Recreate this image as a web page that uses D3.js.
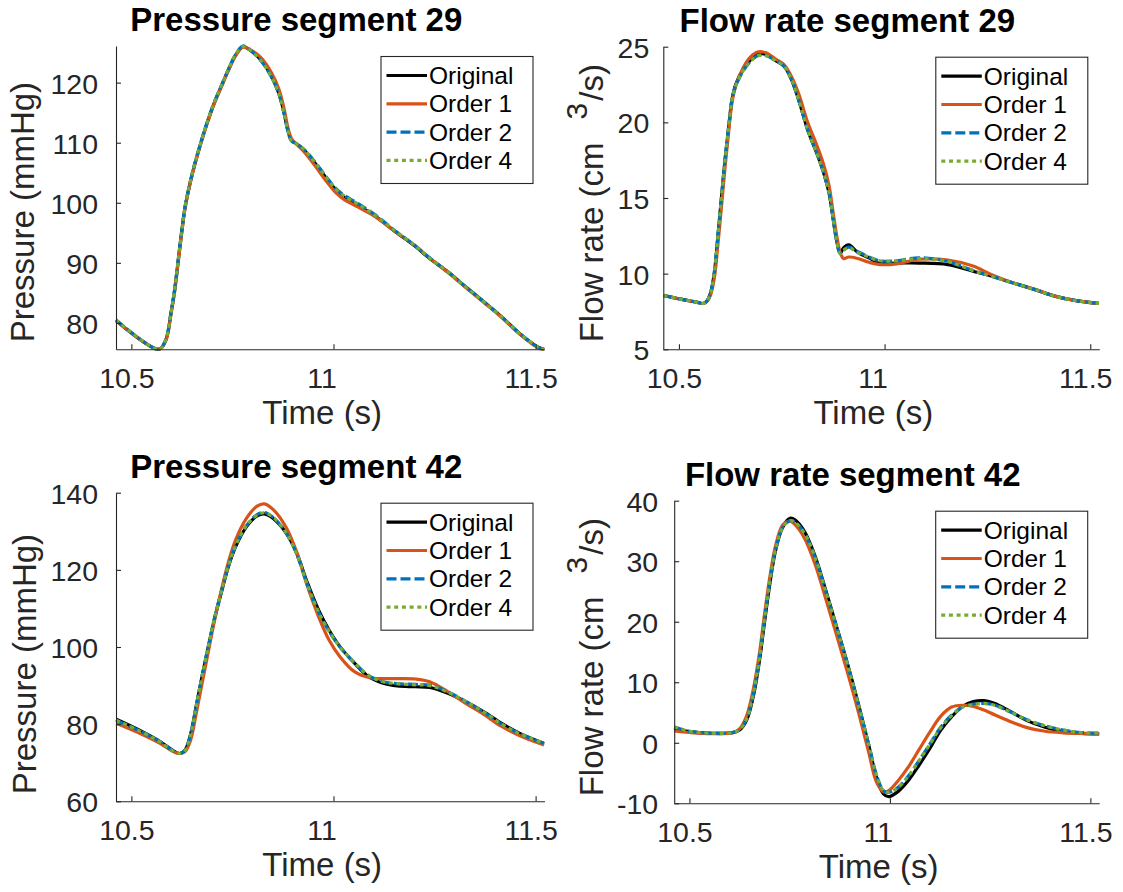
<!DOCTYPE html>
<html>
<head>
<meta charset="utf-8">
<script src="https://cdn.jsdelivr.net/npm/d3@7"></script>
<style>
  body { margin: 0; background: #fff; }
  svg text { font-family: "Liberation Sans", Arial, Helvetica, sans-serif; }
</style>
</head>
<body>
<svg id="chart" width="1123" height="892"></svg>
<script>
const seriesNames = ['Original', 'Order 1', 'Order 2', 'Order 4'];
const xTicks = [10.5, 11, 11.5];
const timeDomain = [10.462, 11.522];

// Pressure segment 29
const timeP29 = [10.462, 10.568, 10.585, 10.598, 10.607, 10.616, 10.625, 10.633, 10.651, 10.669,
                 10.687, 10.705, 10.722, 10.740, 10.758, 10.776, 10.794, 10.820, 10.847, 10.865,
                 10.878, 10.887, 10.896, 10.909, 10.927, 10.954, 10.980, 11.007, 11.025, 11.060,
                 11.105, 11.149, 11.203, 11.238, 11.283, 11.327, 11.372, 11.416, 11.461, 11.505, 11.521];
const p29Original = [80.4, 75.6, 77.1, 81.6, 85.4, 90.4, 95.4, 99.3, 104.9, 109.3,
                     113.2, 116.6, 119.3, 122.1, 124.6, 126.0, 125.4, 123.8, 121.0, 118.2,
                     114.9, 112.1, 110.4, 109.8, 108.8, 106.6, 104.3, 102.1, 101.0, 99.6,
                     97.7, 95.4, 92.7, 90.7, 88.5, 86.0, 83.5, 81.0, 78.2, 76.0, 75.6];
const p29Order1 = [80.4, 75.6, 77.0, 81.4, 85.2, 90.2, 95.2, 99.1, 104.8, 109.2,
                   113.1, 116.5, 119.2, 122.0, 124.5, 125.9, 125.5, 124.2, 121.6, 118.9,
                   115.6, 112.6, 110.7, 109.7, 108.5, 106.2, 103.8, 101.6, 100.6, 99.3,
                   97.6, 95.4, 92.8, 90.8, 88.4, 85.9, 83.4, 80.9, 78.1, 75.9, 75.6];
const p29Order2 = [80.5, 75.6, 77.2, 81.7, 85.5, 90.5, 95.5, 99.4, 105.0, 109.4,
                   113.3, 116.7, 119.4, 122.2, 124.7, 126.1, 125.4, 123.7, 120.9, 118.1,
                   114.8, 112.0, 110.3, 109.8, 108.9, 106.8, 104.5, 102.3, 101.3, 99.9,
                   97.9, 95.5, 92.8, 90.8, 88.5, 86.0, 83.5, 81.0, 78.2, 76.0, 75.6];
const p29Order4 = [80.5, 75.6, 77.2, 81.7, 85.5, 90.5, 95.5, 99.4, 105.0, 109.4,
                   113.3, 116.7, 119.4, 122.2, 124.7, 126.0, 125.4, 123.7, 120.9, 118.1,
                   114.8, 112.0, 110.3, 109.8, 108.9, 106.7, 104.4, 102.2, 101.2, 99.8,
                   97.8, 95.5, 92.8, 90.8, 88.5, 86.0, 83.5, 81.0, 78.2, 76.0, 75.6];

// Flow rate segment 29
const timeQ29 = [10.463, 10.507, 10.542, 10.559, 10.568, 10.577, 10.586, 10.594, 10.603, 10.612,
                 10.621, 10.629, 10.638, 10.656, 10.673, 10.691, 10.712, 10.734, 10.756, 10.774,
                 10.791, 10.813, 10.835, 10.852, 10.865, 10.874, 10.883, 10.892, 10.900, 10.913,
                 10.935, 10.962, 10.988, 11.030, 11.084, 11.154, 11.215, 11.259, 11.311, 11.364,
                 11.416, 11.469, 11.521];
const q29Original = [8.56, 8.30, 8.12, 8.03, 8.19, 8.74, 10.05, 12.25, 14.9, 17.5,
                     19.7, 21.5, 22.5, 23.5, 24.1, 24.5, 24.5, 24.1, 23.7, 22.8,
                     21.5, 19.5, 17.97, 16.65, 15.33, 13.8, 12.25, 11.33, 11.7, 11.9,
                     11.4, 11.04, 10.7, 10.7, 10.7, 10.6, 10.16, 9.84, 9.4, 8.96,
                     8.5, 8.2, 8.03];
const q29Order1 = [8.56, 8.30, 8.12, 8.03, 8.15, 8.6, 9.7, 11.7, 14.3, 17.0,
                   19.4, 21.3, 22.4, 23.6, 24.3, 24.65, 24.6, 24.2, 23.8, 23.0,
                   21.9, 20.0, 18.5, 17.2, 15.8, 14.2, 12.6, 11.4, 11.0, 11.1,
                   11.0, 10.75, 10.6, 10.65, 10.95, 10.9, 10.5, 9.95, 9.4, 8.96,
                   8.5, 8.2, 8.03];
const q29Order2 = [8.56, 8.30, 8.12, 8.03, 8.19, 8.74, 10.05, 12.25, 14.9, 17.5,
                   19.7, 21.5, 22.4, 23.4, 24.0, 24.4, 24.4, 24.1, 23.7, 22.8,
                   21.5, 19.5, 17.97, 16.65, 15.33, 13.8, 12.25, 11.33, 11.55, 11.75,
                   11.45, 11.1, 10.85, 10.85, 11.05, 10.8, 10.2, 9.84, 9.4, 8.96,
                   8.5, 8.2, 8.03];
const q29Order4 = [8.56, 8.30, 8.12, 8.03, 8.19, 8.74, 10.05, 12.25, 14.9, 17.5,
                   19.7, 21.5, 22.4, 23.4, 24.0, 24.4, 24.4, 24.1, 23.7, 22.8,
                   21.5, 19.5, 17.97, 16.65, 15.33, 13.8, 12.25, 11.33, 11.55, 11.7,
                   11.4, 11.1, 10.85, 10.85, 11.0, 10.8, 10.2, 9.84, 9.4, 8.96,
                   8.5, 8.2, 8.03];

// Pressure segment 42
const timeP42 = [10.4626, 10.527, 10.571, 10.607, 10.620, 10.633, 10.647, 10.660, 10.673, 10.687,
                 10.705, 10.722, 10.740, 10.758, 10.785, 10.811, 10.829, 10.851, 10.883, 10.909,
                 10.936, 10.963, 10.989, 11.016, 11.052, 11.087, 11.123, 11.158, 11.203, 11.238,
                 11.283, 11.327, 11.372, 11.416, 11.461, 11.521];
const p42Original = [81.25, 78.05, 75.5, 72.9, 72.4, 73.3, 77.6, 84.5, 91.4, 98.4,
                     107.0, 113.9, 120.8, 126.0, 131.2, 134.0, 134.5, 133.3, 129.5, 124.3,
                     116.5, 109.6, 104.4, 100.1, 95.8, 92.3, 90.6, 89.9, 89.7, 89.5,
                     88.0, 85.8, 83.2, 80.2, 77.6, 75.0];
const p42Order1 = [80.2, 77.3, 75.0, 72.7, 72.4, 72.9, 76.0, 82.5, 89.5, 97.0,
                   106.5, 114.5, 122.0, 127.8, 133.4, 136.5, 137.1, 135.6, 131.0, 124.6,
                   115.6, 107.9, 101.8, 97.5, 93.6, 92.1, 91.8, 91.8, 91.7, 91.0,
                   88.4, 85.4, 82.5, 79.4, 77.0, 74.6];
const p42Order2 = [81.0, 77.9, 75.4, 72.8, 72.4, 73.2, 77.4, 84.4, 91.4, 98.5,
                   107.2, 114.1, 121.0, 126.3, 131.5, 134.3, 134.9, 133.6, 129.6, 124.1,
                   116.0, 109.1, 104.1, 100.0, 95.9, 92.6, 91.0, 90.5, 90.3, 90.1,
                   88.4, 85.9, 83.1, 80.0, 77.5, 75.0];
const p42Order4 = [81.0, 77.9, 75.4, 72.8, 72.4, 73.2, 77.4, 84.4, 91.4, 98.5,
                   107.2, 114.1, 121.0, 126.3, 131.5, 134.2, 134.8, 133.6, 129.6, 124.1,
                   116.0, 109.1, 104.1, 100.0, 95.9, 92.6, 91.0, 90.5, 90.2, 90.0,
                   88.3, 85.9, 83.1, 80.0, 77.5, 75.0];

// Flow rate segment 42
const timeQ42 = [10.462, 10.500, 10.554, 10.608, 10.625, 10.643, 10.661, 10.675, 10.688, 10.702,
                 10.715, 10.733, 10.751, 10.764, 10.787, 10.814, 10.840, 10.867, 10.894, 10.921,
                 10.948, 10.966, 10.984, 10.997, 11.020, 11.047, 11.073, 11.100, 11.127, 11.154,
                 11.181, 11.208, 11.235, 11.262, 11.297, 11.342, 11.387, 11.432, 11.477, 11.522];
const q42Original = [2.4, 1.84, 1.56, 1.67, 2.1, 3.8, 8.2, 13.7, 20.3, 26.9,
                     31.85, 35.7, 37.1, 36.8, 34.9, 30.75, 25.2, 19.2, 13.1, 6.5,
                     -0.64, -5.6, -8.46, -8.9, -8.07, -6.15, -3.67, -0.9, 2.1, 4.3,
                     6.0, 6.8, 6.96, 6.5, 5.3, 3.66, 2.56, 1.84, 1.56, 1.45];
const q42Order1 = [1.95, 1.7, 1.5, 1.65, 2.3, 4.5, 9.4, 15.0, 21.6, 28.0,
                   32.6, 36.0, 36.6, 36.0, 33.8, 29.4, 23.8, 17.8, 11.7, 5.2,
                   -1.8, -6.4, -8.1, -7.9, -6.3, -3.9, -1.1, 1.8, 4.4, 5.9,
                   6.2, 6.0, 5.4, 4.6, 3.6, 2.5, 1.9, 1.65, 1.55, 1.5];
const q42Order2 = [2.6, 1.9, 1.6, 1.7, 2.2, 4.0, 8.6, 14.2, 20.8, 27.3,
                   32.0, 35.6, 36.7, 36.4, 34.6, 30.5, 25.0, 19.1, 13.0, 6.4,
                   -0.5, -5.2, -7.9, -8.2, -7.4, -5.4, -2.9, -0.2, 2.6, 4.6,
                   5.9, 6.4, 6.5, 6.2, 5.2, 3.8, 2.8, 2.1, 1.7, 1.6];
const q42Order4 = [2.6, 1.9, 1.6, 1.7, 2.2, 4.0, 8.6, 14.2, 20.8, 27.3,
                   32.0, 35.6, 36.7, 36.4, 34.6, 30.5, 25.0, 19.1, 13.0, 6.4,
                   -0.5, -5.2, -7.9, -8.2, -7.4, -5.4, -2.9, -0.2, 2.5, 4.5,
                   5.9, 6.3, 6.5, 6.2, 5.2, 3.8, 2.8, 2.1, 1.7, 1.6];

const yTicksP29 = [80, 90, 100, 110, 120];
const yTicksQ29 = [5, 10, 15, 20, 25];
const yTicksP42 = [60, 80, 100, 120, 140];
const yTicksQ42 = [-10, 0, 10, 20, 30, 40];

const panels = [
  {title: 'Pressure segment 29', ylabel: 'pressure', time: timeP29,
   series: [p29Original, p29Order1, p29Order2, p29Order4], yDomain: [75.6, 126.1], yTicks: yTicksP29,
   box: {left: 116, right: 544.5, top: 46, bottom: 349.3, labelGap: 82, tickGap: 18}},
  {title: 'Flow rate segment 29', ylabel: 'flow', time: timeQ29,
   series: [q29Original, q29Order1, q29Order2, q29Order4], yDomain: [5, 25], yTicks: yTicksQ29,
   box: {left: 663.3, right: 1099.3, top: 46.7, bottom: 349.3, labelGap: 60.5, tickGap: 14}},
  {title: 'Pressure segment 42', ylabel: 'pressure', time: timeP42,
   series: [p42Original, p42Order1, p42Order2, p42Order4], yDomain: [60, 140], yTicks: yTicksP42,
   box: {left: 116, right: 544.5, top: 492.7, bottom: 801.3, labelGap: 80.5, tickGap: 18}},
  {title: 'Flow rate segment 42', ylabel: 'flow', time: timeQ42,
   series: [q42Original, q42Order1, q42Order2, q42Order4], yDomain: [-10, 40], yTicks: yTicksQ42,
   box: {left: 674.2, right: 1099.2, top: 500.7, bottom: 803.3, labelGap: 71, tickGap: 16}}
];

const lineStyles = [
  {color: '#000000', dash: null},
  {color: '#D95319', dash: null},
  {color: '#0072BD', dash: '10,4'},
  {color: '#77AC30', dash: '4,3.7'}
];
const axisColor = '#262626';

const svg = d3.select('#chart');
svg.append('rect').attr('width', 1123).attr('height', 892).attr('fill', '#fff');

function styleAxis(g) {
  g.select('.domain').attr('stroke', axisColor).attr('stroke-width', 1.1);
  g.selectAll('.tick line').attr('stroke', axisColor).attr('stroke-width', 1.1);
  g.selectAll('.tick text')
   .attr('fill', axisColor)
   .style('font-size', '28.5px')
   .style('font-family', '"Liberation Sans", Arial, sans-serif');
}

function drawPanel(panel) {
  let b = panel.box;
  let xScale = d3.scaleLinear().domain(timeDomain).range([b.left, b.right]);
  let yScale = d3.scaleLinear().domain(panel.yDomain).range([b.bottom, b.top]);

  let g = svg.append('g');

  let line = d3.line()
               .x(d => xScale(d[0]))
               .y(d => yScale(d[1]))
               .curve(d3.curveCatmullRom.alpha(0.5));

  panel.series.forEach((values, i) => {
    g.append('path')
     .datum(d3.zip(panel.time, values))
     .attr('fill', 'none')
     .attr('stroke', lineStyles[i].color)
     .attr('stroke-width', 3.2)
     .attr('stroke-dasharray', lineStyles[i].dash)
     .attr('stroke-linejoin', 'round')
     .attr('d', line);
  });

  let xAxis = d3.axisBottom(xScale)
                .tickValues(xTicks)
                .tickFormat(d => String(d))
                .tickSizeInner(-5)
                .tickSizeOuter(0)
                .tickPadding(18);
  // the exported figure shifts its "11" label further left than the others
  g.append('g')
   .attr('transform', `translate(0, ${b.bottom})`)
   .call(xAxis)
   .call(styleAxis)
   .selectAll('.tick text').attr('dx', d => d === 11 ? -12 : -5);

  let yAxis = d3.axisLeft(yScale)
                .tickValues(panel.yTicks)
                .tickFormat(d => String(d))
                .tickSizeInner(-5)
                .tickSizeOuter(0)
                .tickPadding(b.tickGap);
  g.append('g')
   .attr('transform', `translate(${b.left}, 0)`)
   .call(yAxis)
   .call(styleAxis)
   .selectAll('.tick text').attr('dy', '0.37em');

  // title sits a little left of the axes centre, as in the original figure
  g.append('text')
   .attr('x', (b.left + b.right) / 2 - 34)
   .attr('y', b.top - 15)
   .attr('text-anchor', 'middle')
   .attr('font-weight', 'bold')
   .attr('font-size', 33)
   .attr('fill', '#000')
   .text(panel.title);

  g.append('text')
   .attr('x', (b.left + b.right) / 2 - 8)
   .attr('y', b.bottom + 75)
   .attr('text-anchor', 'middle')
   .attr('font-size', 33)
   .attr('fill', axisColor)
   .text('Time (s)');

  let yl = g.append('text')
            .attr('transform', `translate(${b.left - b.labelGap}, ${b.bottom - 7}) rotate(-90)`)
            .attr('text-anchor', 'start')
            .attr('font-size', 33)
            .attr('fill', axisColor);
  if (panel.ylabel === 'pressure') {
    yl.text('Pressure (mmHg)');
  } else {
    yl.append('tspan').text('Flow rate (cm');
    yl.append('tspan').attr('dx', 23).attr('dy', -16).attr('font-size', 30).text('3');
    yl.append('tspan').attr('dx', 2).attr('dy', 16).text('/s)');
  }

  // legend
  let lw = 152, lh = 127;
  let lx = b.right - 11.5 - lw, ly = b.top + 10.5;
  let legend = g.append('g').attr('transform', `translate(${lx}, ${ly})`);
  legend.append('rect')
        .attr('width', lw)
        .attr('height', lh)
        .attr('fill', '#fff')
        .attr('stroke', axisColor)
        .attr('stroke-width', 1.1);
  seriesNames.forEach((name, i) => {
    let cy = 19 + i * 28.3;
    legend.append('line')
          .attr('x1', 5.5).attr('x2', 46)
          .attr('y1', cy).attr('y2', cy)
          .attr('stroke', lineStyles[i].color)
          .attr('stroke-width', 3.2)
          .attr('stroke-dasharray', lineStyles[i].dash);
    legend.append('text')
          .attr('x', 48)
          .attr('y', cy + 8.5)
          .attr('font-size', 24.5)
          .attr('fill', '#000')
          .text(name);
  });
}

panels.forEach(drawPanel);
</script>
</body>
</html>
